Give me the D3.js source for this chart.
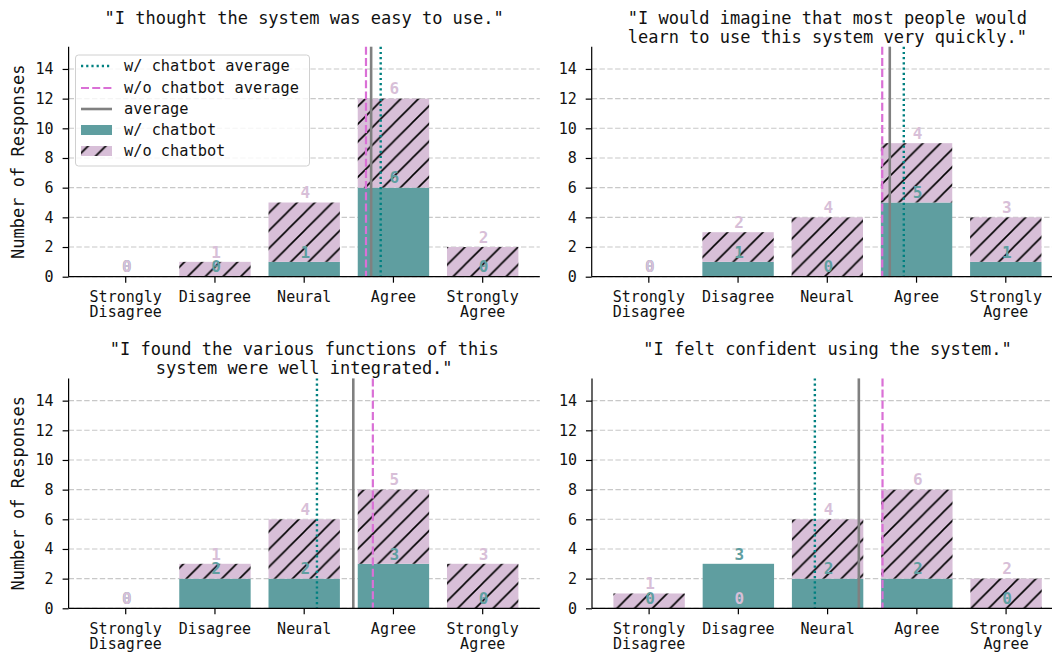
<!DOCTYPE html>
<html><head><meta charset="utf-8">
<script src="https://cdn.jsdelivr.net/npm/d3@7"></script>
<style>
html,body{margin:0;padding:0;background:#fff;}
svg{display:block;}
text{font-family:"DejaVu Sans Mono", monospace;}
</style></head><body>
<svg id="chart" width="1052" height="654"></svg>
<script>
// Likert categories (multi-line tick labels)
const categories = [["Strongly","Disagree"],["Disagree"],["Neural"],["Agree"],["Strongly","Agree"]];
// Survey statements, one per panel
const titles = [
  ['"I thought the system was easy to use."'],
  ['"I would imagine that most people would', 'learn to use this system very quickly."'],
  ['"I found the various functions of this', 'system were well integrated."'],
  ['"I felt confident using the system."']
];
// Response counts per category
const withChatbot    = [[0,0,1,6,0],[0,1,0,5,1],[0,2,2,3,0],[0,3,2,2,0]];
const withoutChatbot = [[0,1,4,6,2],[0,2,4,4,3],[0,1,4,5,3],[1,0,4,6,2]];
const yTicks = [0,2,4,6,8,10,12,14];
const legendLabels = ["w/ chatbot average","w/o chatbot average","average","w/ chatbot","w/o chatbot"];
const yLabel = "Number of Responses";

const C = {teal:"#5f9ea0", thistle:"#d8bfd8", tealLine:"#008080", pinkLine:"#da70d6", gray:"#808080"};

const svg = d3.select("#chart");
const W = 471.2;
const panels = [
  {left:68.6, top:46.7, bottom:276.7, titleBase:[23.5, 42.5], ylab:true},
  {left:591.7, top:46.7, bottom:276.7, titleBase:[23.5, 42.5], ylab:false},
  {left:68.6, top:378.4, bottom:608.3, titleBase:[355, 374], ylab:true},
  {left:592, top:378.4, bottom:608.3, titleBase:[355, 374], ylab:false}
];

// diagonal hatch, anchored to page coordinates
const P = 17.7;
const defs = svg.append("defs");
const pat = defs.append("pattern").attr("id","hatch").attr("patternUnits","userSpaceOnUse")
  .attr("width",P).attr("height",P).attr("x",4).attr("y",0);
pat.append("rect").attr("width",P).attr("height",P).attr("fill",C.thistle);
pat.append("path")
  .attr("d",`M-2,${P+2}L${P+2},-2M${-2-P},${P+2}L2,-2M${P-2},${P+2}L${2*P+2},-2`)
  .attr("stroke","#000").attr("stroke-width",1.6).attr("fill","none");

const mean = arr => d3.sum(arr, (v,i)=>v*i) / d3.sum(arr);

panels.forEach((p, k) => {
  const g = svg.append("g");
  const w = withChatbot[k], o = withoutChatbot[k];
  const xBand = d3.scaleBand().domain(d3.range(categories.length))
    .range([p.left, p.left + W]).paddingInner(0.2).paddingOuter(0.24);
  const xLin = d3.scaleLinear().domain([-0.64, 4.64]).range([p.left, p.left + W]);
  const y = d3.scaleLinear().domain([0, 15.5]).range([p.bottom, p.top]);

  // grid
  g.append("g").selectAll("line").data(yTicks).join("line")
    .attr("x1", p.left).attr("x2", p.left + W)
    .attr("y1", d=>y(d)).attr("y2", d=>y(d))
    .attr("stroke","#c8c8c8").attr("stroke-width",1.1).attr("stroke-dasharray","5.4,2.4");

  // stacked bars
  const idx = d3.range(categories.length);
  g.append("g").selectAll("rect").data(idx).join("rect")
    .attr("x", i=>xBand(i)).attr("width", xBand.bandwidth())
    .attr("y", i=>y(w[i])).attr("height", i=>y(0)-y(w[i]))
    .attr("fill", C.teal);
  g.append("g").selectAll("rect").data(idx.filter(i=>o[i]>0)).join("rect")
    .attr("x", i=>xBand(i)).attr("width", xBand.bandwidth())
    .attr("y", i=>y(w[i]+o[i])).attr("height", i=>y(w[i])-y(w[i]+o[i]))
    .attr("fill", "url(#hatch)");

  // averages
  const avgW = mean(w), avgO = mean(o);
  const avgAll = mean(w.map((v,i)=>v+o[i]));
  const vline = (val, color, dash, sw) => g.append("line")
    .attr("x1", xLin(val)).attr("x2", xLin(val)).attr("y1", p.top).attr("y2", p.bottom)
    .attr("stroke", color).attr("stroke-width", sw).attr("stroke-dasharray", dash);
  vline(avgW, C.tealLine, "2.2,3", 2.4);
  vline(avgO, C.pinkLine, "8,3.2", 2.2);
  vline(avgAll, C.gray, null, 2.6);

  // axes
  const ax = g.append("g").attr("transform",`translate(0,${p.bottom})`)
    .call(d3.axisBottom(xBand).tickSize(6).tickPadding(0).tickFormat(""));
  ax.selectAll(".tick").each(function(i){
    const t = d3.select(this).append("text").attr("fill","#111")
      .attr("text-anchor","middle").style("font-size","15px");
    categories[i].forEach((s,j)=>t.append("tspan").attr("x",0).attr("y",25.7 + j*15).text(s));
  });
  const ay = g.append("g").attr("transform",`translate(${p.left},0)`)
    .call(d3.axisLeft(y).tickValues(yTicks).tickSize(6).tickPadding(9));
  ay.selectAll("text").attr("fill","#111").style("font-size","15px");
  [ax, ay].forEach(a => {
    a.select(".domain").attr("stroke","#000").attr("stroke-width",1.2);
    a.selectAll(".tick line").attr("stroke","#000").attr("stroke-width",1.2);
  });
  ax.select(".domain").attr("d", `M${p.left},0H${p.left+W}`);
  ay.select(".domain").attr("d", `M0,${p.top}V${p.bottom}`);

  // value labels
  const lab = g.append("g").attr("text-anchor","middle").style("font-size","16px").style("font-weight","bold");
  lab.selectAll("text.w").data(idx).join("text").attr("class","w")
    .attr("x", i=>xBand(i)+xBand.bandwidth()/2 + 1).attr("y", i=>y(w[i]) - 4.3)
    .attr("fill", C.teal).text(i=>w[i]);
  lab.selectAll("text.o").data(idx).join("text").attr("class","o")
    .attr("x", i=>xBand(i)+xBand.bandwidth()/2 + 1).attr("y", i=>y(o[i]>0 ? w[i]+o[i] : 0) - 4.3)
    .attr("fill", C.thistle).text(i=>o[i]);

  // title
  titles[k].forEach((s,j)=>g.append("text").attr("x", p.left + W/2).attr("y", p.titleBase[j])
    .attr("text-anchor","middle").attr("fill","#111").style("font-size","17px").text(s));

  if (p.ylab) {
    g.append("text").attr("transform",`translate(23.5,${(p.top+p.bottom)/2}) rotate(-90)`)
      .attr("text-anchor","middle").attr("fill","#111").style("font-size","17px").text(yLabel);
  }

  // legend
  if (k === 0) {
    const L = g.append("g");
    L.append("rect").attr("x",75.5).attr("y",55).attr("width",234).attr("height",111)
      .attr("rx",3).attr("fill","#fff").attr("fill-opacity",0.8).attr("stroke","#d0d0d0");
    const rows = [66, 88, 109, 130, 151];
    const h = [
      {type:"line", color:C.tealLine, dash:"2.2,3", sw:2.4},
      {type:"line", color:C.pinkLine, dash:"8,3.2", sw:2.2},
      {type:"line", color:C.gray, dash:null, sw:2.6},
      {type:"rect", fill:C.teal},
      {type:"rect", fill:"url(#hatch)"}
    ];
    h.forEach((d,i)=>{
      if (d.type==="line") {
        L.append("line").attr("x1",81).attr("x2",112).attr("y1",rows[i]).attr("y2",rows[i])
          .attr("stroke",d.color).attr("stroke-width",d.sw).attr("stroke-dasharray",d.dash);
      } else {
        L.append("rect").attr("x",81).attr("y",rows[i]-5).attr("width",31).attr("height",10).attr("fill",d.fill);
      }
      L.append("text").attr("x",124).attr("y",rows[i]+5).attr("fill","#111")
        .style("font-size","15.3px").text(legendLabels[i]);
    });
  }
});
</script>
</body></html>
